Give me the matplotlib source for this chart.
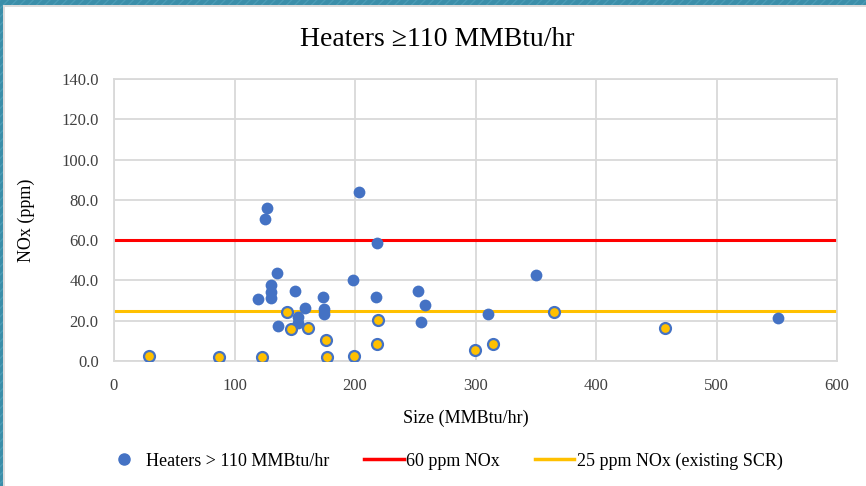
import numpy as np
import matplotlib
matplotlib.use('Agg')
import matplotlib.pyplot as plt
from matplotlib.lines import Line2D
from matplotlib.patches import Rectangle

plt.rcParams['font.family'] = ['Liberation Serif', 'DejaVu Serif']

# heaters, plain blue points
blue_x = [126.7, 125.0, 203.3, 218.5, 135.0, 350.2, 198.6, 130.0, 130.0, 130.0,
          119.8, 150.2, 173.2, 217.2, 252.6, 258.1, 158.8, 174.5, 174.5, 153.0,
          153.0, 135.8, 254.8, 310.1, 551.3]
blue_y = [75.8, 70.4, 84.1, 58.8, 43.5, 42.5, 40.2, 37.5, 34.4, 31.1,
          30.6, 34.9, 31.9, 31.6, 34.9, 27.8, 26.3, 25.8, 23.5, 21.8,
          18.8, 17.2, 19.5, 23.3, 21.5]
# heaters with existing SCR (yellow points)
scr_x = [29.3, 87.4, 122.7, 143.5, 146.8, 160.7, 175.8, 176.5, 199.0, 219.3,
         218.5, 299.6, 314.8, 365.4, 457.3]
scr_y = [2.6, 2.1, 2.1, 24.3, 16.0, 16.6, 10.6, 2.1, 2.5, 20.4,
         8.6, 5.5, 8.4, 24.2, 16.5]
limit_60 = 60
limit_25 = 25

blue = '#4472c4'
yellow = '#ffc000'
red = '#ff0000'
grid = '#d9d9d9'

fig = plt.figure(figsize=(8.66, 4.86), dpi=100)
ax = fig.add_axes([114/866, 1-361/486, 723/866, 282/486])

# teal frame on top and left
teal = '#3b8ea9'
fig.patches.append(Rectangle((0, 1-5/486), 1, 5/486, transform=fig.transFigure,
                             facecolor=teal, edgecolor='#4a9bb5', hatch='////', lw=0, zorder=0))
fig.patches.append(Rectangle((0, 1-7/486), 1, 2/486, transform=fig.transFigure,
                             facecolor='#dcdcdc', lw=0, zorder=0))
fig.patches.append(Rectangle((0, 0), 3/866, 1, transform=fig.transFigure,
                             facecolor=teal, edgecolor='#4a9bb5', hatch='////', lw=0, zorder=0))
fig.patches.append(Rectangle((3/866, 0), 2/866, 1-5/486, transform=fig.transFigure,
                             facecolor='#dcdcdc', lw=0, zorder=0))

ax.axhline(limit_60, color=red, lw=2.2, zorder=2)
ax.axhline(limit_25, color=yellow, lw=2.2, zorder=2)
ax.scatter(blue_x, blue_y, s=72, color=blue, lw=0, zorder=3)
ax.scatter(scr_x, scr_y, s=62, facecolor=yellow, edgecolor=blue, lw=1.6, zorder=3)

ax.set_xlim(0, 600)
ax.set_ylim(0, 140)
ax.set_xticks(np.arange(0, 601, 100))
ax.set_yticks(np.arange(0, 141, 20))
ax.set_yticklabels([f'{v:.1f}' for v in np.arange(0, 141, 20)])
ax.tick_params(length=0, labelsize=12, pad=11, colors='#404040')
ax.tick_params(axis='x', pad=12)
ax.grid(True, color=grid, lw=1.3)
ax.set_axisbelow(True)
for s in ax.spines.values():
    s.set_color(grid)
    s.set_linewidth(1.3)

ax.set_xlabel('Size (MMBtu/hr)', fontsize=13)
ax.set_ylabel('NOx (ppm)', fontsize=13)
ax.xaxis.set_label_coords(0.487, -0.174)
ax.yaxis.set_label_coords(-0.109, 0.5)

fig.text(0.505, 1-40/486, 'Heaters \u2265110 MMBtu/hr', fontsize=20, ha='center', va='center')

handles = [Line2D([0], [0], marker='o', color='none', markerfacecolor=blue,
                  markeredgecolor=blue, markersize=8, label='Heaters > 110 MMBtu/hr'),
           Line2D([0], [0], color=red, lw=2.5, label='60 ppm NOx'),
           Line2D([0], [0], color=yellow, lw=2.5, label='25 ppm NOx (existing SCR)')]
fig.legend(handles=handles, loc='center', bbox_to_anchor=(0.512, 1-461/486), ncol=3,
           frameon=False, fontsize=13, handlelength=2.2, handletextpad=0.15,
           columnspacing=1.9)

fig.savefig('out.png', dpi=100)
